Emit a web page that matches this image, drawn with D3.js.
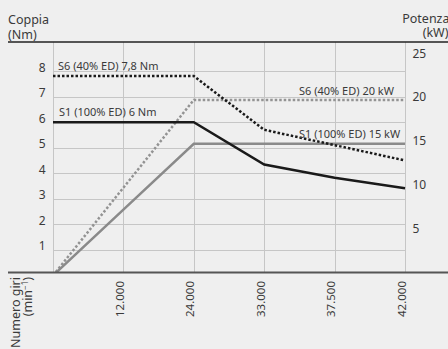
<!DOCTYPE html>
<html><head><meta charset="utf-8">
<script src="https://cdn.jsdelivr.net/npm/d3@7/dist/d3.min.js"></script>
<style>
html,body{margin:0;padding:0;background:#efefef;overflow:hidden}
svg{display:block;font-family:"Noto Sans",sans-serif}
</style></head><body>
<script>
// Data
const rpm = [0, 12000, 24000, 33000, 37500, 42000];
const rpmLabels = ["", "12.000", "24.000", "33.000", "37.500", "42.000"];
const torqueTicks = [1, 2, 3, 4, 5, 6, 7, 8];
const powerTicks = [5, 10, 15, 20, 25];
const s1Torque = [6, 6, 6, 4.34, 3.82, 3.41];      // Nm
const s6Torque = [7.8, 7.8, 7.8, 5.7, 5.1, 4.5];   // Nm
const s1Power  = [0, 7.5, 15, 15, 15, 15];         // kW
const s6Power  = [0, 10, 20, 20, 20, 20];          // kW

const W = 448, H = 349;
const L = 53, R = 405, T = 42, B = 272.5;

const svg = d3.select("body").append("svg").attr("width", W).attr("height", H);

const x = d3.scalePoint().domain(rpm).range([L, R]);
const yT = d3.scaleLinear().domain([0, 8]).range([275.5, 71]);
const yP = d3.scaleLinear().domain([0, 25]).range([275.5, 56]);

const grid = "#c6c6c6";
svg.append("g").selectAll("line").data(torqueTicks).join("line")
  .attr("x1", L).attr("x2", R)
  .attr("y1", d => Math.round(yT(d)) + 0.5).attr("y2", d => Math.round(yT(d)) + 0.5)
  .attr("stroke", grid).attr("stroke-width", 1);
svg.append("g").selectAll("line").data(rpm).join("line")
  .attr("x1", d => Math.round(x(d)) + 0.5).attr("x2", d => Math.round(x(d)) + 0.5)
  .attr("y1", T).attr("y2", B)
  .attr("stroke", grid).attr("stroke-width", 1);

svg.append("clipPath").attr("id", "clip").append("rect")
  .attr("x", L).attr("y", T).attr("width", R - L + 2).attr("height", B - T);

const plot = svg.append("g").attr("clip-path", "url(#clip)");
const lineT = d3.line().x((d, i) => x(rpm[i])).y(d => yT(d));
const lineP = d3.line().x((d, i) => x(rpm[i])).y(d => yP(d));

plot.append("path").datum(s6Power).attr("d", lineP).attr("fill", "none")
  .attr("stroke", "#939393").attr("stroke-width", 2.5).attr("stroke-dasharray", "2.5,2");
plot.append("path").datum(s1Power).attr("d", lineP).attr("fill", "none")
  .attr("stroke", "#8a8a8a").attr("stroke-width", 2.5);
plot.append("path").datum(s6Torque).attr("d", lineT).attr("fill", "none")
  .attr("stroke", "#1a1a1a").attr("stroke-width", 2.5).attr("stroke-dasharray", "2.5,2");
plot.append("path").datum(s1Torque).attr("d", lineT).attr("fill", "none")
  .attr("stroke", "#1a1a1a").attr("stroke-width", 2.5);

svg.append("line").attr("x1", 8).attr("x2", W).attr("y1", 42).attr("y2", 42)
  .attr("stroke", "#222").attr("stroke-width", 1.5);
svg.append("line").attr("x1", 8).attr("x2", W).attr("y1", B).attr("y2", B)
  .attr("stroke", "#555").attr("stroke-width", 2);

const txt = "#3a3a3a";
svg.append("g").selectAll("text").data(torqueTicks).join("text")
  .attr("x", 45.5).attr("y", d => yT(d) + 0.5)
  .attr("text-anchor", "end").attr("font-size", 12).attr("fill", txt)
  .text(d => d);
svg.append("g").selectAll("text").data(powerTicks).join("text")
  .attr("x", 412.5).attr("y", d => yP(d) + 1.5)
  .attr("text-anchor", "start").attr("font-size", 12).attr("fill", txt)
  .text(d => d);
svg.append("g").selectAll("text").data(rpm.slice(1)).join("text")
  .attr("transform", d => `translate(${x(d) + 0.5},281) rotate(-90)`)
  .attr("text-anchor", "end").attr("font-size", 11.5).attr("fill", txt)
  .text((d, i) => rpmLabels[i + 1]);

svg.append("text").attr("x", 8).attr("y", 24).attr("font-size", 12.5).attr("fill", txt).text("Coppia");
svg.append("text").attr("x", 8).attr("y", 38.5).attr("font-size", 12.5).attr("fill", txt).text("(Nm)");
svg.append("text").attr("x", 449.5).attr("y", 22.5).attr("text-anchor", "end").attr("font-size", 12.5).attr("fill", txt).text("Potenza");
svg.append("text").attr("x", 448.5).attr("y", 37).attr("text-anchor", "end").attr("font-size", 12.5).attr("fill", txt).text("(kW)");

svg.append("text").attr("transform", "translate(19.5,277) rotate(-90)")
  .attr("text-anchor", "end").attr("font-size", 12.5).attr("fill", txt).text("Numero giri");
const t2 = svg.append("text").attr("transform", "translate(32,277) rotate(-90)")
  .attr("text-anchor", "end").attr("font-size", 12.5).attr("fill", txt);
t2.append("tspan").text("(min");
t2.append("tspan").attr("font-size", 8).attr("dy", -4.5).text("−1");
t2.append("tspan").attr("dy", 4.5).text(")");

const lab = (xx, yy, s) => svg.append("text").attr("x", xx).attr("y", yy)
  .attr("font-size", 11).attr("fill", txt).text(s);
lab(58, 69.5, "S6 (40% ED) 7,8 Nm");
lab(59, 116, "S1 (100% ED) 6 Nm");
lab(299, 95, "S6 (40% ED) 20 kW");
lab(299, 137.5, "S1 (100% ED) 15 kW");
</script>
</body></html>
